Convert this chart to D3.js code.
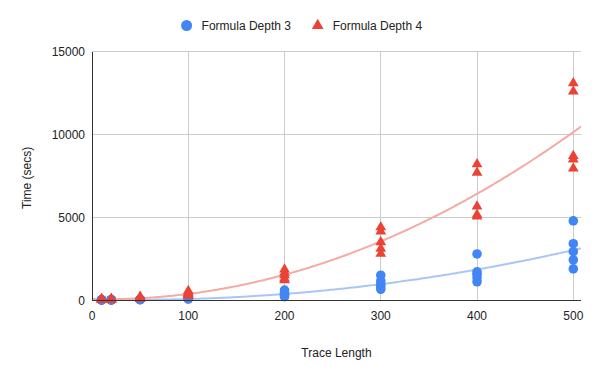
<!DOCTYPE html>
<html><head><meta charset="utf-8">
<script src="https://cdn.jsdelivr.net/npm/d3@7"></script>
<style>body{margin:0;background:#fff}svg{display:block}text{font-family:Arial,"Liberation Sans",sans-serif}</style>
</head><body>
<script>
const traceLengths = [10, 20, 50, 100, 200, 300, 400, 500];
const depth3Times = [
  [8, 6, 5, 4, 3],
  [15, 12, 10, 8, 6],
  [40, 35, 30, 25, 20],
  [150, 120, 100, 80, 60],
  [600, 450, 350, 300, 200],
  [1500, 1150, 950, 800, 650],
  [2780, 1700, 1550, 1350, 1100],
  [4780, 3400, 2920, 2430, 1880]
];
const depth4Times = [
  [60, 40, 30, 20, 15],
  [70, 50, 40, 30, 20],
  [200, 150, 120, 100, 80],
  [550, 450, 380, 320, 250],
  [1850, 1650, 1500, 1300, 1200],
  [4400, 4150, 3500, 3100, 2800],
  [8200, 7700, 5650, 5150, 5050],
  [13100, 12600, 8700, 8500, 7950]
];
const seriesNames = ["Formula Depth 3", "Formula Depth 4"];
const xTicks = [0, 100, 200, 300, 400, 500];
const yTicks = [0, 5000, 10000, 15000];

const W = 600, H = 371;
const L = 92, R = 581, T = 51.7, B = 300;
const svg = d3.select("body").append("svg").attr("width", W).attr("height", H);
const x = d3.scaleLinear().domain([0, 508]).range([L, R]);
const y = d3.scaleLinear().domain([0, 15000]).range([B, T]);

// gridlines
svg.append("g").selectAll("line").data(xTicks.filter(d => d > 0)).join("line")
  .attr("x1", d => x(d)).attr("x2", d => x(d)).attr("y1", T).attr("y2", B)
  .attr("stroke", "#cccccc").attr("stroke-width", 1).attr("shape-rendering", "crispEdges");
svg.append("g").selectAll("line").data(yTicks.filter(d => d > 0)).join("line")
  .attr("x1", L).attr("x2", R).attr("y1", d => y(d)).attr("y2", d => y(d))
  .attr("stroke", "#cccccc").attr("stroke-width", 1).attr("shape-rendering", "crispEdges");

// tick labels
svg.append("g").selectAll("text").data(xTicks).join("text")
  .attr("x", d => x(d)).attr("y", 320).attr("text-anchor", "middle")
  .attr("font-size", 12).attr("fill", "#222").text(d => d);
svg.append("g").selectAll("text").data(yTicks).join("text")
  .attr("x", 85).attr("y", d => y(d) + 4.5).attr("text-anchor", "end")
  .attr("font-size", 12).attr("fill", "#222").text(d => d);

// axis titles
svg.append("text").attr("x", (L + R) / 2).attr("y", 357).attr("text-anchor", "middle")
  .attr("font-size", 12).attr("fill", "#222").text("Trace Length");
svg.append("text").attr("transform", `translate(31,${(T + B) / 2 + 2}) rotate(-90)`)
  .attr("text-anchor", "middle").attr("font-size", 12).attr("fill", "#222").text("Time (secs)");

function flatten(vals) {
  const pts = [];
  traceLengths.forEach((t, i) => vals[i].forEach(v => pts.push([t, v])));
  return pts;
}
function quadFit(pts) {
  // least squares y = a + b x + c x^2
  let S = [[0,0,0],[0,0,0],[0,0,0]], V = [0,0,0];
  pts.forEach(([px, py]) => {
    const p = [1, px, px * px];
    for (let i = 0; i < 3; i++) { V[i] += p[i] * py; for (let j = 0; j < 3; j++) S[i][j] += p[i] * p[j]; }
  });
  // gaussian elimination
  const M = S.map((r, i) => [...r, V[i]]);
  for (let i = 0; i < 3; i++) {
    for (let k = i + 1; k < 3; k++) {
      const f = M[k][i] / M[i][i];
      for (let j = i; j < 4; j++) M[k][j] -= f * M[i][j];
    }
  }
  const c = [0,0,0];
  for (let i = 2; i >= 0; i--) {
    let s = M[i][3];
    for (let j = i + 1; j < 3; j++) s -= M[i][j] * c[j];
    c[i] = s / M[i][i];
  }
  return c;
}

const series = [
  {name: seriesNames[0], pts: flatten(depth3Times), color: "#4285f4", trend: "#a9c6f9", sym: d3.symbolCircle, size: 72},
  {name: seriesNames[1], pts: flatten(depth4Times), color: "#ea4335", trend: "#f5aaa4", sym: d3.symbolTriangle, size: 50}
];

svg.append("defs").append("clipPath").attr("id", "clip").append("rect")
  .attr("x", L).attr("y", T).attr("width", R - L).attr("height", B - T);

// trend lines
series.forEach(s => {
  const c = quadFit(s.pts);
  const xs = d3.range(0, 508.01, 2);
  const line = d3.line().x(d => x(d)).y(d => y(c[0] + c[1] * d + c[2] * d * d)).curve(d3.curveLinear);
  svg.append("path").datum(xs).attr("d", line).attr("fill", "none")
    .attr("stroke", s.trend).attr("stroke-width", 2).attr("clip-path", "url(#clip)");
});

// axes lines
svg.append("line").attr("x1", L).attr("x2", L).attr("y1", T).attr("y2", B)
  .attr("stroke", "#333").attr("stroke-width", 1).attr("shape-rendering", "crispEdges");

// points
series.forEach(s => {
  svg.append("g").selectAll("path").data(s.pts).join("path")
    .attr("d", d3.symbol().type(s.sym).size(s.size))
    .attr("transform", d => `translate(${x(d[0])},${y(d[1])})`)
    .attr("fill", s.color);
});

svg.append("line").attr("x1", L).attr("x2", R).attr("y1", B).attr("y2", B)
  .attr("stroke", "#333").attr("stroke-width", 1).attr("shape-rendering", "crispEdges");

// legend
const legendX = [186.6, 317.7];
series.forEach((s, i) => {
  svg.append("path").attr("d", d3.symbol().type(s.sym).size(i === 0 ? 95 : 60))
    .attr("transform", `translate(${legendX[i]},25.5)`).attr("fill", s.color);
  svg.append("text").attr("x", legendX[i] + 15).attr("y", 30).attr("font-size", 12)
    .attr("fill", "#222").text(s.name);
});
</script>
</body></html>
